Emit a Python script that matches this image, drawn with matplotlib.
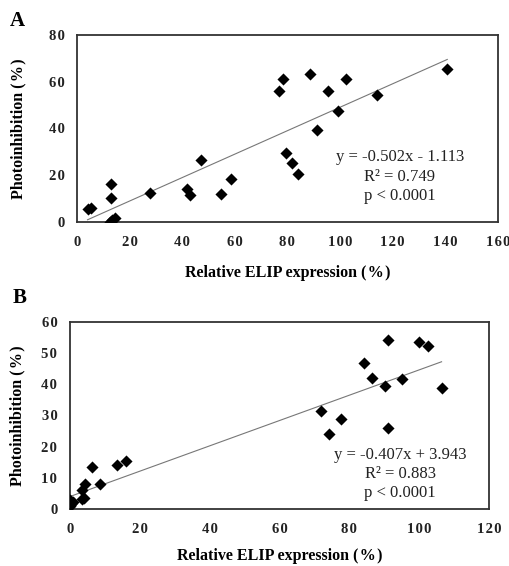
import numpy as np
import matplotlib
matplotlib.use("Agg")
import matplotlib.pyplot as plt

plt.rcParams['font.family'] = ['Liberation Serif', 'DejaVu Serif']

# panel A data
a_x = [4.0, 5.3, 13.0, 13.0, 12.4, 13.4, 14.5, 27.8, 41.7, 42.8, 47.1, 54.9, 58.7,
       76.8, 78.5, 79.3, 81.8, 84.1, 88.7, 91.4, 95.4, 99.4, 102.3, 114.0, 140.8]
a_y = [5.3, 5.8, 16.3, 10.4, 0.1, 0.7, 1.7, 12.5, 14.2, 11.4, 26.4, 12.1, 18.2,
       55.9, 61.1, 29.5, 25.4, 20.7, 63.4, 39.5, 55.9, 47.6, 61.1, 54.4, 65.4]
a_slope, a_icpt = 0.502, -1.113
a_text = ["y = -0.502x - 1.113", "R\u00b2 = 0.749", "p < 0.0001"]

# panel B data
b_x = [0.0, 0.3, 0.0, 1.0, 3.6, 4.1, 3.6, 4.4, 6.2, 8.6, 13.6, 16.2,
       72.0, 74.2, 77.5, 84.2, 86.6, 90.2, 91.1, 91.1, 95.0, 99.9, 102.4, 106.4]
b_y = [0.9, 1.7, 2.7, 2.1, 3.0, 3.4, 6.0, 7.9, 13.5, 7.9, 14.2, 15.4,
       31.4, 24.0, 28.8, 46.8, 42.1, 39.6, 54.2, 26.0, 41.7, 53.5, 52.3, 38.9]
b_slope, b_icpt = 0.407, 3.943
b_text = ["y = -0.407x + 3.943", "R\u00b2 = 0.883", "p < 0.0001"]

fig = plt.figure(figsize=(5.1, 5.66), dpi=100)
axA = fig.add_axes([0.151, 0.608, 0.825, 0.330])
axB = fig.add_axes([0.137, 0.101, 0.822, 0.330])


def spaced(v):
    # the original tick labels are letter-spaced
    return '\u200a'.join(str(int(v)))


def panel(ax, x, y, slope, icpt, lines, xmax, ymax, ystep, xstep, tx, tys, ylx, xly):
    ax.scatter(x, y, marker='D', s=38, color='black', zorder=3, linewidths=0)
    xs = np.array([min(x), max(x)])
    ax.plot(xs, slope * xs + icpt, color='#777777', lw=0.8, zorder=2)
    ax.set_xlim(0, xmax)
    ax.set_ylim(0, ymax)
    xt = np.arange(0, xmax + 1, xstep)
    yt = np.arange(0, ymax + 1, ystep)
    ax.set_xticks(xt, [spaced(v) for v in xt])
    ax.set_yticks(yt, [spaced(v) for v in yt])
    ax.tick_params(length=0, labelsize=10.5)
    ax.tick_params(axis='x', pad=10)
    ax.tick_params(axis='y', pad=9)
    for lab in ax.get_xticklabels() + ax.get_yticklabels():
        lab.set_fontweight('bold')
        lab.set_color('#222222')
    for sp in ax.spines.values():
        sp.set_linewidth(1.3)
        sp.set_color('#333333')
    ax.set_ylabel('Photoinhibition (\u200a%\u200a)', fontsize=11.5, fontweight='bold')
    ax.set_xlabel('Relative ELIP expression (\u200a%\u200a)', fontsize=11.5, fontweight='bold')
    ax.yaxis.set_label_coords(ylx, 0.5)
    ax.xaxis.set_label_coords(0.5, xly)
    ax.yaxis.label.set_va('center')
    ax.xaxis.label.set_va('center')
    for t, ty in zip(lines, tys):
        ax.text(tx, ty, t, transform=ax.transAxes, ha='center', va='center',
                fontsize=12, color='#222222')


panel(axA, a_x, a_y, a_slope, a_icpt, a_text, 160, 80, 20, 20, 0.767, [0.348, 0.24, 0.139],
      -0.140, -0.273)
panel(axB, b_x, b_y, b_slope, b_icpt, b_text, 120, 60, 10, 20, 0.788, [0.289, 0.187, 0.086],
      -0.124, -0.255)

fig.text(0.02, 0.963, 'A', fontsize=15, fontweight='bold', va='center', ha='left')
fig.text(0.024, 0.473, 'B', fontsize=15, fontweight='bold', va='center', ha='left')

fig.savefig('out.png', dpi=100)
